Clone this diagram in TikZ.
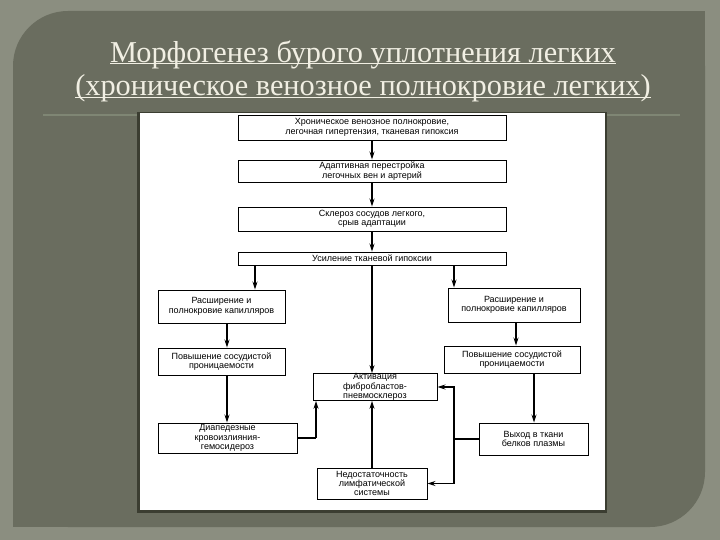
\documentclass[tikz,border=0pt]{standalone}
\usepackage{fontspec}
\setmainfont{Liberation Serif}
\newfontfamily\boxfont{Liberation Sans}
\usetikzlibrary{arrows.meta}

\definecolor{outerbg}{HTML}{8B8E80}
\definecolor{panelbg}{HTML}{6A6D5F}
\definecolor{rulecol}{HTML}{7F8674}
\definecolor{titlecol}{HTML}{F1EFE3}
\definecolor{shadowcol}{HTML}{3B3D31}

\begin{document}
\begin{tikzpicture}[
  x=1pt, y=-1pt,
  blk/.style={
    rectangle, draw=black, line width=0.9pt, fill=white,
    inner sep=0pt, align=center,
    font=\boxfont\fontsize{9}{9.4}\selectfont
  },
  title/.style={text=titlecol, font=\fontsize{30.3}{33}\selectfont, inner sep=0pt},
  arr/.style={-{Stealth[length=8pt,width=5pt]}, line width=1.3pt},
  twoarr/.style={{Stealth[length=8pt,width=5pt]}-{Stealth[length=8pt,width=5pt]}, line width=1.3pt},
  thickline/.style={line width=2.2pt},
]
\useasboundingbox (0,0) rectangle (720,540);

% Background and panel
\fill[outerbg] (0,0) rectangle (720,540);
\fill[panelbg, rounded corners=55pt] (13,11) rectangle (705,527);
\fill[panelbg] (359,11) rectangle (705,269);
\fill[panelbg] (13,269) rectangle (359,527);

% Title
\node[title] (t1) at (363,55) {Морфогенез бурого уплотнения легких};
\node[title] (t2) at (363,88) {(хроническое венозное полнокровие легких)};
\draw[titlecol, line width=1pt] ([yshift=-9]t1.west) -- ([yshift=-9]t1.east);
\draw[titlecol, line width=1pt] ([yshift=-10]t2.west) -- ([yshift=-10]t2.east);
\draw[rulecol, line width=2.5pt] (43,115) -- (680,115);

% White picture area
\fill[shadowcol] (137,112) rectangle (607,513);
\fill[white] (140,113) rectangle (605,510);

% Main column
\node[blk, minimum width=268, minimum height=25] (hron) at (372,127.5)
  {Хроническое венозное полнокровие,\\легочная гипертензия, тканевая гипоксия};
\node[blk, minimum width=268, minimum height=22] (adapt) at (372,171)
  {Адаптивная перестройка\\легочных вен и артерий};
\node[blk, minimum width=268, minimum height=24] (skler) at (372,219)
  {Склероз сосудов легкого,\\срыв адаптации};
\node[blk, minimum width=268, minimum height=13] (usil) at (372,258.5)
  {Усиление тканевой гипоксии};

% Left branch
\node[blk, minimum width=127, minimum height=33] (rasL) at (221.5,306.5)
  {Расширение и\\полнокровие капилляров};
\node[blk, minimum width=127, minimum height=27] (povL) at (221.5,361.5)
  {Повышение сосудистой\\проницаемости};
\node[blk, minimum width=139, minimum height=30] (diap) at (227.5,438)
  {Диапедезные\\кровоизлияния-\\гемосидероз};

% Right branch
\node[blk, minimum width=132, minimum height=34] (rasR) at (514,305)
  {Расширение и\\полнокровие капилляров};
\node[blk, minimum width=136, minimum height=27] (povR) at (512,359.5)
  {Повышение сосудистой\\проницаемости};
\node[blk, minimum width=109, minimum height=32] (vyhod) at (533.5,439)
  {Выход в ткани\\белков плазмы};

% Centre
\node[blk, minimum width=124, minimum height=26] (aktiv) at (375,387)
  {Активация\\фибробластов-\\пневмосклероз};
\node[blk, minimum width=110, minimum height=31] (nedost) at (372,483.5)
  {Недостаточность\\лимфатической\\системы};

% Connectors
\draw[arr] (hron) -- (adapt);
\draw[arr] (adapt) -- (skler);
\draw[arr] (skler) -- (usil);
\draw[arr] (usil.south -| 255,0) -- (rasL.north -| 255,0);
\draw[arr] (usil.south) -- (usil.south |- aktiv.north);
\draw[arr] (usil.south -| 454,0) -- (rasR.north -| 454,0);
\draw[arr] (rasL.south -| 227,0) -- (povL.north -| 227,0);
\draw[arr] (povL.south -| 227,0) -- (diap.north -| 227,0);
\draw[arr] (rasR.south -| 516,0) -- (povR.north -| 516,0);
\draw[arr] (povR.south -| 534,0) -- (vyhod.north -| 534,0);
\draw[thickline] (diap.east) -- (diap.east -| 316,0);
\draw[arr] (diap.east -| 316,0) -- (aktiv.south -| 316,0);
\draw[arr] (nedost.north) -- (nedost.north |- aktiv.south);
\draw[thickline] (vyhod.west) -- (vyhod.west -| 454,0);
\draw[twoarr] (aktiv.east) -| (nedost.east -| 454,0) -- (nedost.east);

\end{tikzpicture}
\end{document}
